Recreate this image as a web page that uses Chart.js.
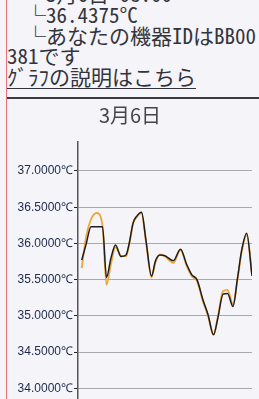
<!DOCTYPE html>
<html>
<head>
<meta charset="utf-8">
<script src="https://cdn.jsdelivr.net/npm/chart.js@4/dist/chart.umd.min.js"></script>
<style>
  html, body { margin:0; padding:0; }
  body { width:259px; height:399px; overflow:hidden; position:relative; background:#f5f4f9; }
  #redline { position:absolute; left:6px; top:0; width:1px; height:399px; background:#ec6f7c; }
  #txt { position:absolute; left:7px; top:-17px; width:260px; font-family:"Noto Sans Mono CJK JP","Noto Sans CJK JP",sans-serif; font-size:21px; line-height:20.75px; color:#34343c; white-space:nowrap; }
  #txt div { height:20.75px; }
  .ind { padding-left:18px; }
  #txt a { color:#34343c; text-decoration:underline; text-decoration-thickness:1px; text-underline-offset:3px; }
  #rule { position:absolute; left:7px; right:0; top:97px; height:2px; background:#3a3a40; }
  #wrap { position:absolute; left:8px; top:100px; width:251px; height:340px; }
</style>
</head>
<body>
<div id="redline"></div>
<div id="txt">
  <div class="ind">└3月6日 08:00</div>
  <div class="ind">└36.4375°C</div>
  <div class="ind">└あなたの機器IDはBB00</div>
  <div>381です</div>
  <div><a>ｸﾞﾗﾌの説明はこちら</a></div>
</div>
<div id="rule"></div>
<div id="wrap"><canvas id="c" width="251" height="340"></canvas></div>
<script>
const chartTitle = "3月6日";
const hours = [0.51, 1.10, 1.79, 2.58, 3.38, 3.93, 4.55, 5.17, 5.93, 6.62, 7.10, 7.59, 8.14, 8.76, 9.38, 10.14, 10.69, 11.31, 12.0, 13.14, 14.14, 14.99, 15.68, 16.41, 17.24, 17.93, 18.69, 19.31, 20.0, 20.62, 21.38, 22.0, 22.58, 23.27, 24.0];
const tempBlack = [35.77, 35.98, 36.23, 36.23, 36.23, 35.53, 35.80, 35.98, 35.82, 35.84, 36.02, 36.28, 36.38, 36.43, 36.04, 35.55, 35.76, 35.84, 35.83, 35.76, 35.92, 35.71, 35.57, 35.50, 35.22, 35.02, 34.74, 34.98, 35.30, 35.31, 35.13, 35.52, 35.91, 36.14, 35.55];
const tempOrange = [35.66, 36.08, 36.33, 36.42, 36.25, 35.43, 35.72, 35.95, 35.83, 35.82, 36.00, 36.27, 36.37, 36.42, 36.02, 35.53, 35.74, 35.85, 35.82, 35.73, 35.91, 35.69, 35.55, 35.48, 35.20, 35.00, 34.74, 35.00, 35.34, 35.36, 35.16, 35.50, 35.88, 36.12, 35.58];
const yTicks = [34.0, 34.5, 35.0, 35.5, 36.0, 36.5, 37.0];
const yTickLabels = ["34.0000℃", "34.5000℃", "35.0000℃", "35.5000℃", "36.0000℃", "36.5000℃", "37.0000℃"];

const toPts = arr => arr.map((v, i) => ({ x: hours[i], y: v }));

new Chart(document.getElementById('c'), {
  type: 'line',
  data: {
    datasets: [
      { data: toPts(tempBlack), borderColor: '#1e1e22', borderWidth: 1.5, pointRadius: 0, cubicInterpolationMode: 'monotone', fill: false },
      { data: toPts(tempOrange), borderColor: '#eea63a', borderWidth: 1.8, pointRadius: 0, cubicInterpolationMode: 'monotone', fill: false }
    ]
  },
  options: {
    responsive: false,
    animation: false,
    events: [],
    layout: { padding: { right: 7, bottom: 2, left: 0, top: 0 } },
    plugins: {
      legend: { display: false },
      tooltip: { enabled: false },
      title: {
        display: true,
        text: chartTitle,
        color: '#45454c',
        font: { family: '"Noto Sans CJK JP", sans-serif', size: 20, weight: 'normal' },
        padding: { top: 3, bottom: 15 }
      }
    },
    scales: {
      x: { type: 'linear', min: 0, max: 24, display: false },
      y: {
        min: 33.4, max: 37.4,
        afterBuildTicks: s => { s.ticks = yTicks.map(v => ({ value: v })); },
        afterFit: s => { s.width = 70; },
        border: { display: true, color: '#55555a', width: 1.5 },
        grid: { color: '#a9a9b2', lineWidth: 1, tickLength: 4, tickColor: '#222' },
        ticks: {
          padding: 1,
          color: '#1d2a4c',
          font: { family: '"Liberation Sans", Arial, sans-serif', size: 12 },
          callback: (v) => { const i = yTicks.indexOf(v); return i >= 0 ? yTickLabels[i] : ''; }
        }
      }
    }
  }
});
</script>
</body>
</html>
